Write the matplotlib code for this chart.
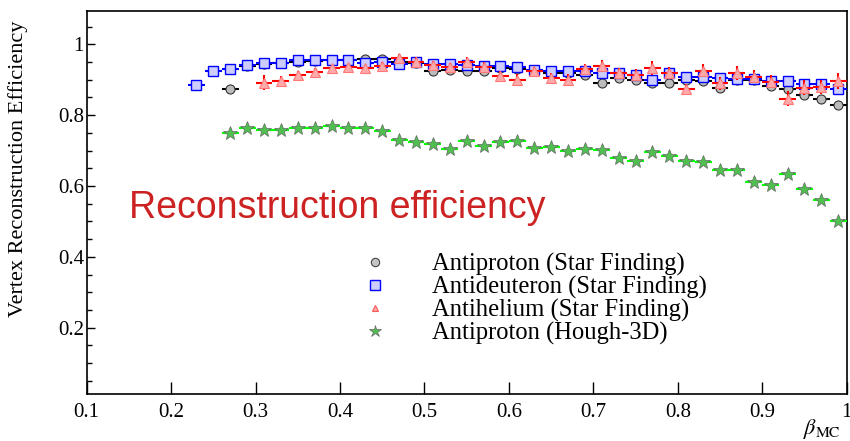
import numpy as np
import matplotlib
matplotlib.use("Agg")
import matplotlib.pyplot as plt
from matplotlib.lines import Line2D
from matplotlib.ticker import MultipleLocator, FuncFormatter

plt.rcParams["mathtext.fontset"] = "stix"

# ---- data -------------------------------------------------------------
bin_half_width = 0.01

beta_pbar_star = [0.27, 0.29, 0.31, 0.33, 0.35, 0.37, 0.39, 0.41, 0.43, 0.45,
                  0.47, 0.49, 0.51, 0.53, 0.55, 0.57, 0.59, 0.61, 0.63, 0.65,
                  0.67, 0.69, 0.71, 0.73, 0.75, 0.77, 0.79, 0.81, 0.83, 0.85,
                  0.87, 0.89, 0.91, 0.93, 0.95, 0.97, 0.99]
eff_pbar_star = [0.873, 0.938, 0.943, 0.946, 0.950, 0.953, 0.955, 0.955, 0.958, 0.958,
                 0.950, 0.946, 0.925, 0.927, 0.925, 0.925, 0.933, 0.930, 0.925, 0.920,
                 0.918, 0.913, 0.892, 0.905, 0.899, 0.890, 0.890, 0.900, 0.897, 0.878,
                 0.899, 0.899, 0.882, 0.873, 0.857, 0.845, 0.829]
err_pbar_star = [0.010, 0.004, 0.004, 0.004, 0.004, 0.004, 0.004, 0.004, 0.004, 0.004,
                 0.004, 0.004, 0.004, 0.004, 0.004, 0.004, 0.004, 0.004, 0.004, 0.004,
                 0.004, 0.004, 0.004, 0.004, 0.004, 0.004, 0.004, 0.004, 0.004, 0.004,
                 0.004, 0.004, 0.004, 0.004, 0.005, 0.005, 0.005]

beta_dbar_star = [0.23, 0.25, 0.27, 0.29, 0.31, 0.33, 0.35, 0.37, 0.39, 0.41,
                  0.43, 0.45, 0.47, 0.49, 0.51, 0.53, 0.55, 0.57, 0.59, 0.61,
                  0.63, 0.65, 0.67, 0.69, 0.71, 0.73, 0.75, 0.77, 0.79, 0.81,
                  0.83, 0.85, 0.87, 0.89, 0.91, 0.93, 0.95, 0.97, 0.99]
eff_dbar_star = [0.885, 0.925, 0.930, 0.942, 0.946, 0.948, 0.956, 0.956, 0.956, 0.956,
                 0.948, 0.951, 0.944, 0.951, 0.944, 0.944, 0.942, 0.939, 0.940, 0.936,
                 0.927, 0.925, 0.925, 0.925, 0.918, 0.918, 0.913, 0.899, 0.920, 0.909,
                 0.909, 0.904, 0.901, 0.901, 0.897, 0.896, 0.888, 0.888, 0.873]
err_dbar_star = [0.004] * len(beta_dbar_star)

beta_hebar_star = [0.31, 0.33, 0.35, 0.37, 0.39, 0.41, 0.43, 0.45, 0.47, 0.49,
                   0.51, 0.53, 0.55, 0.57, 0.59, 0.61, 0.63, 0.65, 0.67, 0.69,
                   0.71, 0.73, 0.75, 0.77, 0.79, 0.81, 0.83, 0.85, 0.87, 0.89,
                   0.91, 0.93, 0.95, 0.97, 0.99]
eff_hebar_star = [0.892, 0.897, 0.913, 0.923, 0.932, 0.935, 0.932, 0.939, 0.960, 0.951,
                  0.942, 0.935, 0.951, 0.937, 0.910, 0.899, 0.925, 0.904, 0.899, 0.929,
                  0.939, 0.920, 0.913, 0.934, 0.920, 0.873, 0.925, 0.890, 0.920, 0.909,
                  0.894, 0.847, 0.878, 0.880, 0.897]
err_hebar_star = [0.022, 0.014, 0.012, 0.010, 0.010, 0.010, 0.010, 0.010, 0.014, 0.012,
                  0.012, 0.012, 0.014, 0.012, 0.014, 0.016, 0.012, 0.014, 0.016, 0.014,
                  0.018, 0.014, 0.016, 0.020, 0.016, 0.016, 0.018, 0.018, 0.020, 0.018,
                  0.018, 0.022, 0.022, 0.020, 0.022]

beta_pbar_hough = [0.27, 0.29, 0.31, 0.33, 0.35, 0.37, 0.39, 0.41, 0.43, 0.45,
                   0.47, 0.49, 0.51, 0.53, 0.55, 0.57, 0.59, 0.61, 0.63, 0.65,
                   0.67, 0.69, 0.71, 0.73, 0.75, 0.77, 0.79, 0.81, 0.83, 0.85,
                   0.87, 0.89, 0.91, 0.93, 0.95, 0.97, 0.99]
eff_pbar_hough = [0.750, 0.764, 0.759, 0.759, 0.765, 0.765, 0.769, 0.765, 0.765, 0.755,
                  0.730, 0.723, 0.719, 0.705, 0.728, 0.713, 0.723, 0.727, 0.706, 0.711,
                  0.700, 0.705, 0.703, 0.678, 0.671, 0.697, 0.684, 0.670, 0.667, 0.645,
                  0.645, 0.612, 0.604, 0.635, 0.592, 0.561, 0.502]
err_pbar_hough = [0.009] + [0.004] * (len(beta_pbar_hough) - 1)

labels = ["Antiproton (Star Finding)", "Antideuteron (Star Finding)",
          "Antihelium (Star Finding)", "Antiproton (Hough-3D)"]

# ---- figure -----------------------------------------------------------
W, H = 850, 441
fig = plt.figure(figsize=(W / 100, H / 100), dpi=100)
ax = fig.add_axes([86.7 / W, 1 - 394.3 / H, (846.7 - 86.7) / W, (394.3 - 11) / H])

serif = ["Liberation Serif", "DejaVu Serif"]

common = dict(linestyle="none", capsize=0, elinewidth=1.5)

ax.errorbar(beta_pbar_star, eff_pbar_star, xerr=bin_half_width, yerr=err_pbar_star,
            fmt="o", ms=6.5, mfc="#bcbcbc", mec="#333333", mew=0.8,
            ecolor="black", zorder=2, **common)
ax.errorbar(beta_dbar_star, eff_dbar_star, xerr=bin_half_width, yerr=err_dbar_star,
            fmt="s", ms=6.8, mfc="#ccccff", mec="#0000ff", mew=1.0,
            ecolor="#0000ff", zorder=3, **common)
ax.errorbar(beta_hebar_star, eff_hebar_star, xerr=bin_half_width, yerr=err_hebar_star,
            fmt="^", ms=7.5, mfc="#ffaaaa", mec="#ff7777", mew=0.8,
            ecolor="#ff0000", zorder=4, **common)
ax.errorbar(beta_pbar_hough, eff_pbar_hough, xerr=bin_half_width, yerr=err_pbar_hough,
            fmt="*", ms=10.5, mfc="#4fbf4f", mec="#666666", mew=0.5,
            ecolor="#00ff00", zorder=5, **common)

ax.set_xlim(0.1, 1.0)
ax.set_ylim(0.012, 1.094)

ax.xaxis.set_major_locator(MultipleLocator(0.1))
ax.yaxis.set_major_locator(MultipleLocator(0.2))
ax.yaxis.set_minor_locator(MultipleLocator(0.05))
fmt = FuncFormatter(lambda v, p: f"{v:g}")
ax.xaxis.set_major_formatter(fmt)
ax.yaxis.set_major_formatter(fmt)

ax.tick_params(axis="both", which="both", direction="in", top=False, right=False,
               labelsize=15, width=1.0, colors="black")
ax.tick_params(axis="x", which="major", length=9, pad=6)
ax.tick_params(axis="y", which="major", length=6, pad=2)
ax.tick_params(axis="y", which="minor", length=3.5)
for lab in ax.get_xticklabels() + ax.get_yticklabels():
    lab.set_family(serif)
for sp in ax.spines.values():
    sp.set_linewidth(1.2)

fig.text(18 / W, 1 - 169 / H, "Vertex Reconstruction Efficiency", rotation=90,
         ha="center", va="center", fontsize=16, family=serif)
fig.text(803 / W, 1 - 429 / H, r"$\beta_{\mathrm{MC}}$", ha="left", va="center",
         fontsize=16)

ax.text(129 / W, 1 - 208 / H, "Reconstruction efficiency", transform=fig.transFigure,
        ha="left", va="center", fontsize=27, color="#cc2222",
        family=["Liberation Sans", "DejaVu Sans"])

handles = [
    Line2D([], [], ls="none", marker="o", ms=6, mfc="#c4c4c4", mec="#444444", mew=0.8),
    Line2D([], [], ls="none", marker="s", ms=6.5, mfc="#ccccff", mec="#0000ff", mew=1.0),
    Line2D([], [], ls="none", marker="^", ms=4.5, mfc="#ffaaaa", mec="#ff5555", mew=0.8),
    Line2D([], [], ls="none", marker="*", ms=9, mfc="#4fbf4f", mec="#666666", mew=0.5),
]
leg = fig.legend(handles, labels, loc="upper left", bbox_to_anchor=(350 / W, 1 - 253 / H),
                 frameon=False, prop={"family": serif, "size": 17.7},
                 borderpad=0, borderaxespad=0, labelspacing=0.0,
                 handlelength=2.0, handletextpad=1.35)

fig.savefig("out.png", dpi=100)
